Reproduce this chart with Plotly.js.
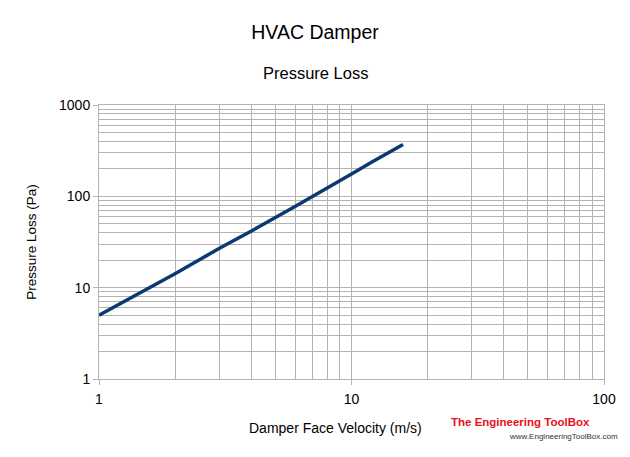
<!DOCTYPE html>
<html>
<head>
<meta charset="utf-8">
<script src="https://cdn.plot.ly/plotly-3.0.1.min.js"></script>
<style>html,body{margin:0;padding:0;background:#fff;}#chart{width:630px;height:457px;}</style>
</head>
<body>
<div id="chart"></div>
<script>
const velocity = [1, 2, 3, 4, 6, 8, 10, 12, 14, 16];
const pressureLoss = [5, 14.2, 27, 41.5, 78, 122, 176, 236, 298, 369];
const xTicks = [1, 10, 100];
const yTicks = [1, 10, 100, 1000];

const trace = {
  x: velocity, y: pressureLoss, type: 'scatter', mode: 'lines',
  line: {color: '#0b3a72', width: 3.5}, hoverinfo: 'x+y'
};

const gridCol = '#b3b3b3';
const layout = {
  width: 630, height: 457,
  margin: {l: 99, r: 26, t: 105, b: 78},
  paper_bgcolor: '#fff', plot_bgcolor: '#fff',
  showlegend: false,
  font: {family: 'Liberation Sans, Arial, sans-serif', color: '#000'},
  title: {text: 'HVAC Damper', x: 0.5, xref: 'container', xanchor: 'center', y: 0.93, yanchor: 'middle', font: {size: 19.5}},
  xaxis: {
    type: 'log', range: [0, 2], tickvals: xTicks, ticktext: xTicks.map(String),
    showgrid: true, gridcolor: gridCol, gridwidth: 1,
    minor: {dtick: 'D1', showgrid: true, gridcolor: gridCol, gridwidth: 1},
    ticks: 'outside', ticklen: 5, tickcolor: gridCol,
    showline: true, linecolor: gridCol, mirror: true, zeroline: false,
    tickfont: {size: 14}, ticklabelstandoff: 2
  },
  yaxis: {
    type: 'log', range: [0, 3], tickvals: yTicks, ticktext: yTicks.map(String),
    showgrid: true, gridcolor: gridCol, gridwidth: 1,
    minor: {dtick: 'D1', showgrid: true, gridcolor: gridCol, gridwidth: 1},
    ticks: 'outside', ticklen: 5, tickcolor: gridCol,
    showline: true, linecolor: gridCol, mirror: true, zeroline: false,
    tickfont: {size: 14},
    title: {text: 'Pressure Loss (Pa)', font: {size: 13.5}, standoff: 19}
  },
  annotations: [
    {text: 'Pressure Loss', xref: 'paper', yref: 'paper', x: 0.428, y: 1, yshift: 32, xanchor: 'center', yanchor: 'middle', showarrow: false, font: {size: 16.5}},
    {text: 'Damper Face Velocity (m/s)', xref: 'paper', yref: 'paper', x: 0.469, y: 0, yshift: -49, xanchor: 'center', yanchor: 'middle', showarrow: false, font: {size: 14}},
    {text: '<b>The Engineering ToolBox</b>', xref: 'paper', yref: 'paper', x: 1, y: 0, xshift: -12, yshift: -43, xanchor: 'right', yanchor: 'middle', showarrow: false, font: {size: 11.5, color: '#e8101a', family: 'Liberation Sans Narrow, Arial Narrow, sans-serif'}},
    {text: 'www.EngineeringToolBox.com', xref: 'paper', yref: 'paper', x: 1, y: 0, xshift: 16, yshift: -57, xanchor: 'right', yanchor: 'middle', showarrow: false, font: {size: 8, color: '#333'}}
  ]
};

Plotly.newPlot('chart', [trace], layout, {displayModeBar: false, staticPlot: true});
</script>
</body>
</html>
